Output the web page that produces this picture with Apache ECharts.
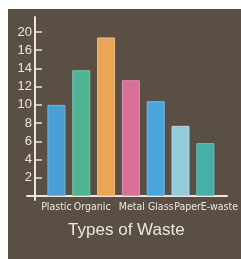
<!DOCTYPE html>
<html>
<head>
<meta charset="utf-8">
<script src="https://cdn.jsdelivr.net/npm/echarts@6/dist/echarts.min.js"></script>
<style>
  html, body { margin: 0; padding: 0; background: #ffffff; }
  #chart {
    position: absolute;
    left: 8px;
    top: 9px;
    width: 233px;
    height: 250px;
    background: #5a4f44;
  }
</style>
</head>
<body>
<div id="chart"></div>
<script>
// categories and values (the orange bar has no label)
var categories = ['Plastic', 'Organic', '', 'Metal', 'Glass', 'Paper', 'E-waste']
var wasteValues = [10, 13.8, 17.4, 12.7, 10.4, 7.7, 5.8]
var barColors = ['#4a9fd4', '#4fb595', '#eaa557', '#d87098', '#4aa6da', '#92cbd9', '#45afa8']
// the top tick is drawn at 18 but labelled 20
var yTickLabels = ['', '2', '4', '6', '8', '10', '12', '14', '16', '20']
// label nudges so the words sit where they do in the drawing
var labelShift = [0, 11, 0, 1, 5, 7, 14]

var chalk = '#ece7da'
var chart = echarts.init(document.getElementById('chart'))

var richLabels = {}
labelShift.forEach(function (s, i) {
  richLabels['c' + i] = {
    color: chalk,
    fontSize: 10.5,
    fontFamily: 'Liberation Sans Narrow, DejaVu Sans Condensed, Liberation Sans, sans-serif',
    padding: s > 0 ? [0, 0, 0, s * 2] : [0, 0, 0, 0]
  }
})

var option = {
  animation: false,
  grid: [
    // bars
    { left: 36, right: 23, top: 23, bottom: 63 },
    // long chalk axis lines
    { left: 19, right: 14, top: 8, bottom: 59 }
  ],
  xAxis: [
    {
      type: 'category',
      gridIndex: 0,
      data: categories,
      axisLine: { show: false },
      axisTick: { show: false },
      axisLabel: {
        interval: 0,
        margin: 6,
        formatter: function (v, i) {
          return '{c' + i + '|' + v + '}'
        },
        rich: richLabels
      },
      name: 'Types of Waste',
      nameLocation: 'middle',
      nameGap: 26,
      nameTextStyle: {
        color: chalk,
        fontSize: 17,
        fontFamily: 'Liberation Sans, sans-serif',
        padding: [0, 9, 0, 0]
      }
    },
    {
      type: 'value',
      gridIndex: 1,
      min: -8,
      max: 192,
      axisLine: { show: true, onZero: true, lineStyle: { color: chalk, width: 2 } },
      axisTick: { show: false },
      axisLabel: { show: false },
      splitLine: { show: false }
    }
  ],
  yAxis: [
    {
      type: 'value',
      gridIndex: 0,
      min: 0,
      max: 18,
      interval: 2,
      offset: 9,
      axisLine: { show: false },
      axisTick: { show: true, inside: true, length: 7, lineStyle: { color: chalk, width: 1.5 } },
      axisLabel: {
        color: chalk,
        fontSize: 13,
        margin: 3,
        fontFamily: 'Liberation Sans, sans-serif',
        formatter: function (v) {
          return yTickLabels[Math.round(v / 2)] || ''
        }
      },
      splitLine: { show: false }
    },
    {
      type: 'value',
      gridIndex: 1,
      min: -4,
      max: 179,
      axisLine: { show: true, onZero: true, lineStyle: { color: chalk, width: 2 } },
      axisTick: { show: false },
      axisLabel: { show: false },
      splitLine: { show: false }
    }
  ],
  series: [
    {
      type: 'bar',
      xAxisIndex: 0,
      yAxisIndex: 0,
      barWidth: 18,
      data: wasteValues.map(function (v, i) {
        return {
          value: v,
          itemStyle: {
            color: barColors[i],
            borderColor: echarts.color.lift(barColors[i], 0.25),
            borderWidth: 1
          }
        }
      })
    }
  ]
}
chart.setOption(option)
</script>
</body>
</html>
